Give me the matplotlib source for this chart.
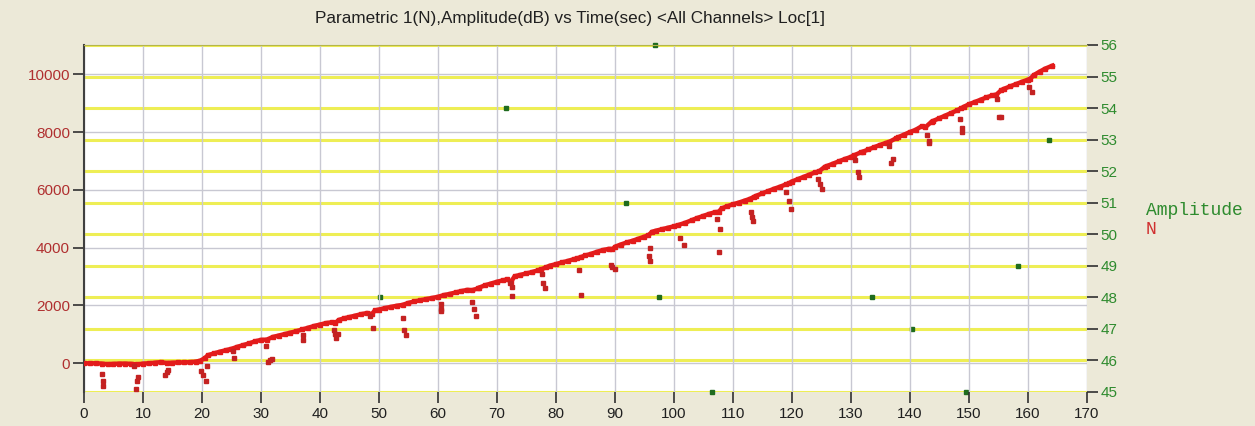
import numpy as np
import matplotlib.pyplot as plt

# main N curve (time sec, N)
curve_t = [0, 1, 2, 3, 4, 5, 6, 7, 8, 9, 10, 11, 12, 13, 14, 15, 16, 17, 18, 19, 19.7,
           20.5, 21, 22, 23, 24, 25, 26, 27, 28, 29, 30, 31,
           32, 33, 34, 35, 36, 37, 38, 39, 40, 41, 42, 42.6,
           43.2, 44, 45, 46, 47, 48, 48.8,
           49.3, 50, 51, 52, 53, 54, 55, 56, 57, 58, 59, 60, 61, 62, 63, 64, 65, 65.8,
           66.8, 67, 68, 69, 70, 71, 71.8, 72.4,
           73, 74, 75, 76, 77, 77.5,
           78.4, 79, 80, 81, 82, 83, 83.6,
           84.3, 85, 86, 87, 88, 89, 89.6,
           90.1, 91, 92, 93, 94, 95, 95.7,
           96.3, 97, 98, 99, 100, 100.7,
           101.9, 103, 104, 105, 106, 107, 107.6,
           108.1, 109, 110, 111, 112, 112.9,
           113.6, 114, 115, 116, 117, 118, 119, 119.5,
           120, 121, 122, 123, 124, 124.6,
           125.6, 126, 127, 128, 129, 130, 130.6,
           131.7, 132, 133, 134, 135, 136, 136.5,
           137.6, 138, 139, 140, 141, 142, 142.6,
           143.7, 144, 145, 146, 147, 148, 148.7,
           149.2, 150, 151, 152, 153, 154, 154.7,
           155.5, 156, 157, 158, 159, 160, 160.4,
           161, 162, 163, 164.2]
curve_n = [0, 0, 0, -10, -30, -20, -10, -10, -20, -40, -10, 0, 20, 40, 10, 20, 30, 30, 40, 60, 90,
           180, 280, 340, 400, 450, 500, 570, 630, 690, 760, 810, 820,
           910, 960, 1010, 1060, 1110, 1170, 1230, 1290, 1340, 1390, 1420, 1400,
           1500, 1550, 1600, 1650, 1700, 1740, 1700,
           1830, 1860, 1910, 1950, 1990, 2020, 2090, 2140, 2180, 2220, 2260, 2300, 2360, 2400, 2450, 2500, 2540, 2530,
           2590, 2620, 2700, 2760, 2820, 2870, 2900, 2820,
           3010, 3060, 3110, 3160, 3220, 3250,
           3330, 3380, 3430, 3490, 3540, 3600, 3630,
           3680, 3730, 3790, 3860, 3920, 3960, 3950,
           4040, 4110, 4180, 4240, 4310, 4380, 4430,
           4550, 4590, 4640, 4690, 4740, 4780,
           4860, 4950, 5030, 5100, 5170, 5230, 5240,
           5360, 5430, 5500, 5560, 5630, 5690,
           5760, 5800, 5880, 5960, 6040, 6110, 6190, 6230,
           6290, 6370, 6450, 6530, 6610, 6640,
           6800, 6830, 6910, 6990, 7070, 7140, 7200,
           7300, 7320, 7400, 7480, 7560, 7630, 7660,
           7780, 7820, 7910, 8000, 8080, 8200, 8160,
           8360, 8390, 8480, 8570, 8660, 8750, 8820,
           8880, 8960, 9040, 9120, 9200, 9270, 9300,
           9450, 9500, 9580, 9660, 9740, 9810, 9840,
           9970, 10090, 10200, 10300]

# scattered N points below the curve
drop_t = [3.1, 3.2, 3.3, 8.4, 8.75, 9.0, 9.2, 13.7, 14.0, 14.3,
          19.9, 20.2, 20.6, 20.9, 25.2, 25.5, 30.9, 31.2, 31.5, 31.8,
          37.1, 37.2, 42.4, 42.6, 42.7, 43.1, 48.5, 49.0, 54.0, 54.2, 54.6,
          60.6, 60.5, 60.6, 65.8, 66.2, 66.5, 72.2, 72.5, 72.5,
          77.6, 77.9, 78.1, 83.9, 84.2, 89.4, 89.6, 90.0,
          95.9, 95.8, 96.0, 101.1, 101.7, 107.3, 107.9, 107.7,
          113.0, 113.3, 113.5, 119.1, 119.5, 119.8, 124.5, 124.8, 125.1,
          130.7, 131.3, 131.4, 136.5, 136.8, 137.1, 142.9, 143.2, 143.3,
          148.5, 148.8, 148.9, 154.8, 155.2, 155.4, 160.3, 160.7]
drop_n = [-380, -610, -800, -90, -890, -610, -470, -415, -300, -240,
          -265, -415, -620, -90, 420, 180, 590, 45, 100, 150,
          970, 820, 1140, 1030, 880, 1030, 1630, 1230, 1550, 1150, 990,
          2065, 1880, 1800, 2110, 1895, 1650, 2780, 2640, 2330,
          3105, 2780, 2620, 3220, 2380, 3395, 3330, 3255,
          3995, 3715, 3535, 4320, 4090, 5010, 4640, 3855,
          5240, 5045, 4920, 5935, 5620, 5335, 6360, 6200, 6025,
          7030, 6625, 6455, 7525, 6915, 7055, 7900, 7700, 7610,
          8440, 8130, 8010, 9135, 8530, 8530, 9550, 9395]

# amplitude hits (time sec, dB)
amp_t = [50.2, 71.6, 91.9, 96.8, 97.5, 106.4, 133.6, 140.3, 149.5, 158.3, 163.6]
amp_db = [48, 54, 51, 56, 48, 45, 48, 47, 45, 49, 53]

bg = '#ECE9D8'
red = '#E31B1B'
dred = '#C42222'
green = '#1F6B1F'
plt.rcParams['font.family'] = 'Liberation Sans'

fig = plt.figure(figsize=(12.55, 4.26), dpi=100, facecolor=bg)
ax = fig.add_axes([84 / 1255, 1 - 391.7 / 426, (1086.7 - 84) / 1255, (391.7 - 45) / 426])
ax2 = ax.twinx()
ax.set_zorder(2)
ax2.set_zorder(1)
ax.patch.set_visible(False)
ax2.patch.set_visible(True)
ax2.patch.set_facecolor('white')

# right axis: amplitude, yellow grid
ax2.set_ylim(45, 56)
ax2.set_yticks(range(45, 57))
ax2.yaxis.grid(True, color='#EEEE55', lw=2.2)
ax2.tick_params(axis='y', colors='#303030', labelcolor='#2E8B2E', length=8, width=1.2,
                labelsize=11, pad=2)
ax2.plot(amp_t, amp_db, 's', color=green, ms=3, zorder=5, clip_on=False)

# left axis: N
ax.set_xlim(0, 170)
ax.set_ylim(-983, 11014)
ax.set_xticks(range(0, 171, 10))
ax.set_yticks(range(0, 10001, 2000))
ax.grid(True, color='#C8C8D2', lw=1)
ax.set_axisbelow(True)
ax.tick_params(axis='y', colors='#303030', labelcolor='#B03030', length=8, width=1.2,
               labelsize=11, pad=2)
ax.tick_params(axis='x', colors='#303030', labelcolor='#202020', length=8, width=1.2,
               labelsize=11, pad=3)

ax.plot(curve_t, curve_n, '-s', color=red, lw=3.2, ms=3.2, zorder=3)
ax.plot(drop_t, drop_n, 's', color=dred, ms=3.2, zorder=3)

for a in (ax, ax2):
    for s in a.spines.values():
        s.set_visible(False)
ax.spines['left'].set_visible(True)
ax.spines['left'].set_color('#404040')
ax.spines['left'].set_linewidth(1.5)
ax.spines['top'].set_visible(True)
ax.spines['top'].set_color('#B5B54A')

fig.text(0.4545, 1 - 19 / 426, 'Parametric 1(N),Amplitude(dB) vs Time(sec) <All Channels> Loc[1]',
         ha='center', va='center', fontsize=12.3, color='#202020')
fig.text(1146 / 1255, 1 - 211 / 426, 'Amplitude', ha='left', va='center', fontsize=13,
         family='Liberation Mono', color='#2E8B2E')
fig.text(1146 / 1255, 1 - 230 / 426, 'N', ha='left', va='center', fontsize=13,
         family='Liberation Mono', color='#D03030')

fig.savefig('out.png', dpi=100, facecolor=bg)
